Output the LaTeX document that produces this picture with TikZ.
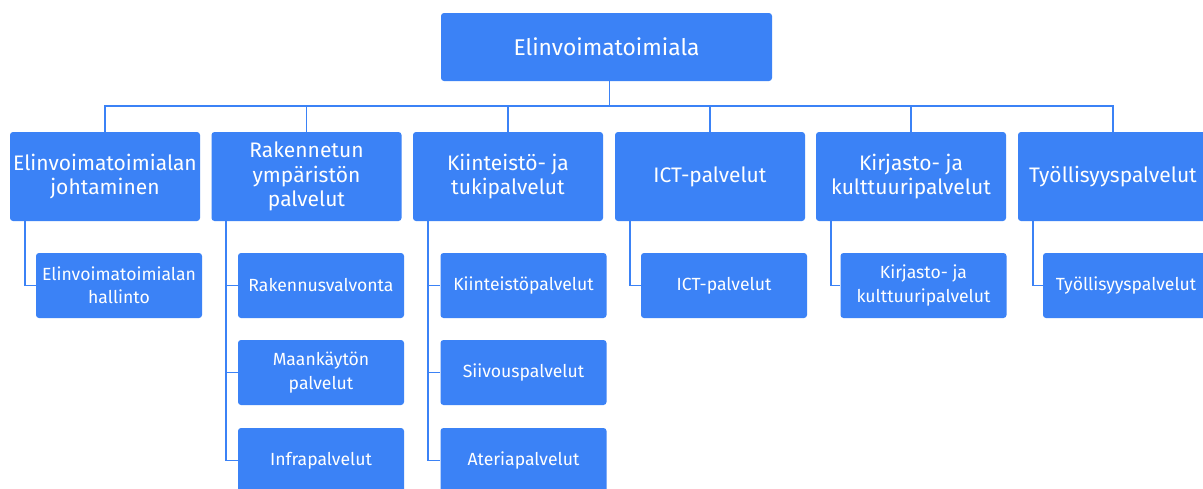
\documentclass[tikz,border=0pt]{standalone}
\usepackage{fontspec}
\setmainfont{Fira Sans}
\usetikzlibrary{positioning}
\definecolor{orgblue}{RGB}{59,130,246}
\tikzset{
  mainbox/.style = {fill = orgblue, rounded corners = 3pt, text = white, align = center,
    minimum width = 331pt, minimum height = 68pt, inner sep = 0pt,
    font = \fontsize{22.8}{26}\selectfont},
  unitbox/.style = {fill = orgblue, rounded corners = 3pt, text = white, align = center,
    minimum width = 190pt, minimum height = 89pt, inner sep = 0pt,
    font = \fontsize{21}{24.3}\selectfont},
  subbox/.style = {fill = orgblue, rounded corners = 3pt, text = white, align = center,
    minimum width = 166pt, minimum height = 65pt, inner sep = 0pt,
    font = \fontsize{17.6}{23.3}\selectfont},
  link/.style = {draw = orgblue, line width = 1.8pt}
}
\begin{document}
\begin{tikzpicture}[x = 1pt, y = -1pt]
\clip (0,0) rectangle (1203,488);
\fill[white] (0,0) rectangle (1203,488);
% top
\node[mainbox] (top) at (606.5,47) {Elinvoimatoimiala};
\coordinate (bus) at (0,106);
% units
\node[unitbox] (u1) at (105,176.5) {Elinvoimatoimialan\\johtaminen};
\node[unitbox] (u2) at (306.5,176.5) {Rakennetun\\ympäristön\\palvelut};
\node[unitbox] (u3) at (508,176.5) {Kiinteistö- ja\\tukipalvelut};
\node[unitbox] (u4) at (710,176.5) {ICT-palvelut};
\node[unitbox] (u5) at (911,176.5) {Kirjasto- ja\\kulttuuripalvelut};
\node[unitbox] (u6) at (1113,176.5) {Työllisyyspalvelut};
% services
\node[subbox] (s11) at (119,285.5) {Elinvoimatoimialan\\hallinto};
\node[subbox] (s21) at (321,285.5) {Rakennusvalvonta};
\node[subbox] (s22) at (321,372.5) {Maankäytön\\palvelut};
\node[subbox] (s23) at (321,460.5) {Infrapalvelut};
\node[subbox] (s31) at (523.5,285.5) {Kiinteistöpalvelut};
\node[subbox] (s32) at (523.5,372.5) {Siivouspalvelut};
\node[subbox] (s33) at (523.5,460.5) {Ateriapalvelut};
\node[subbox] (s41) at (724,285.5) {ICT-palvelut};
\node[subbox] (s51) at (923.5,285.5) {Kirjasto- ja\\kulttuuripalvelut};
\node[subbox] (s61) at (1126,285.5) {Työllisyyspalvelut};
% bus lines
\draw[link] ([xshift = 3pt]top.south) -- ([xshift = 3pt]top.south |- bus);
\draw[link] (u1.north) |- (top.south |- bus) -| (u6.north);
\draw[link] (u2.north) -- (u2.north |- bus);
\draw[link] (u3.north) -- (u3.north |- bus);
\draw[link] (u4.north) -- (u4.north |- bus);
\draw[link] (u5.north) -- (u5.north |- bus);
% unit to service
\draw[link] ([xshift = 15pt]u1.south west) |- (s11.west);
\draw[link] ([xshift = 15pt]u2.south west) |- (s23.west);
\draw[link] ([xshift = 15pt]u2.south west |- s21.west) -- (s21.west);
\draw[link] ([xshift = 15pt]u2.south west |- s22.west) -- (s22.west);
\draw[link] ([xshift = 15pt]u3.south west) |- (s33.west);
\draw[link] ([xshift = 15pt]u3.south west |- s31.west) -- (s31.west);
\draw[link] ([xshift = 15pt]u3.south west |- s32.west) -- (s32.west);
\draw[link] ([xshift = 15pt]u4.south west) |- (s41.west);
\draw[link] ([xshift = 15pt]u5.south west) |- (s51.west);
\draw[link] ([xshift = 15pt]u6.south west) |- (s61.west);
\end{tikzpicture}
\end{document}
